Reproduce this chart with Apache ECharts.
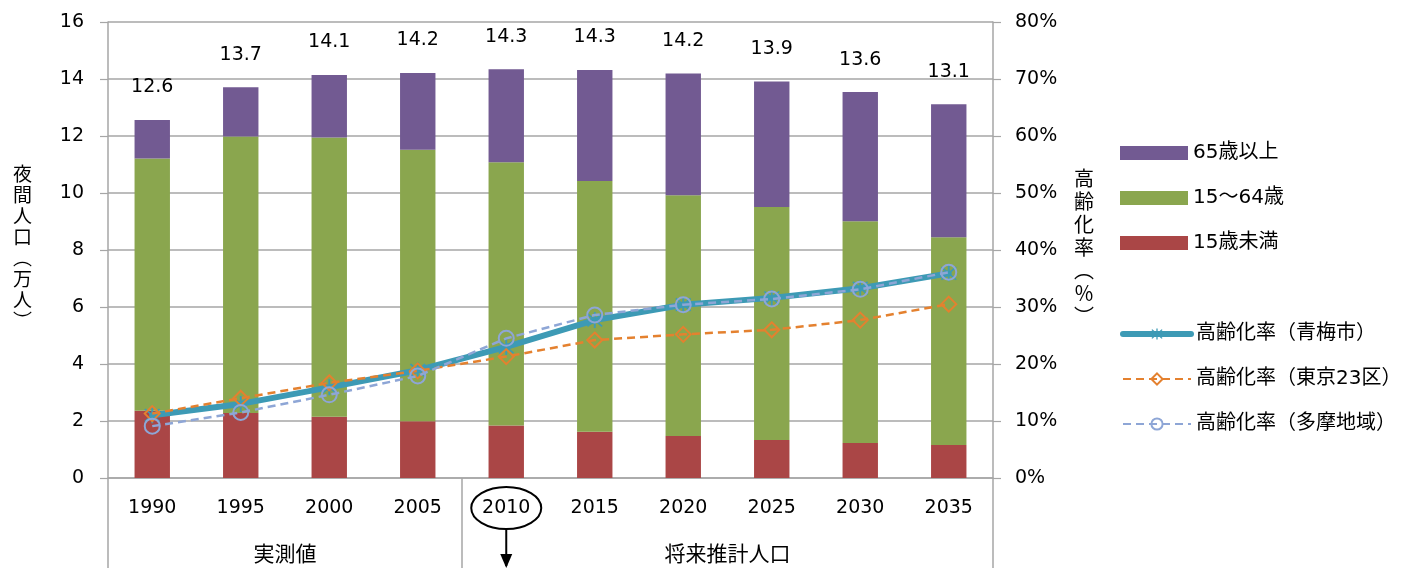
<!DOCTYPE html>
<html>
<head>
<meta charset="utf-8">
<script src="https://cdn.jsdelivr.net/npm/echarts@6/dist/echarts.min.js"></script>
<style>
html,body{margin:0;padding:0;background:#fff;}
#main{width:1422px;height:568px;}
</style>
</head>
<body>
<div id="main"></div>
<script>
// ---- data ----
const categories = ['1990','1995','2000','2005','2010','2015','2020','2025','2030','2035'];
const under15   = [2.36, 2.28, 2.15, 1.99, 1.84, 1.62, 1.47, 1.33, 1.23, 1.16];
const age15to64 = [8.85, 9.70, 9.80, 9.53, 9.24, 8.80, 8.45, 8.18, 7.78, 7.29];
const over65    = [1.35, 1.73, 2.19, 2.69, 3.26, 3.90, 4.27, 4.40, 4.53, 4.66];
const totalLabels = ['12.6','13.7','14.1','14.2','14.3','14.3','14.2','13.9','13.6','13.1'];
const agingOme    = [11.0, 13.0, 15.9, 18.9, 23.0, 27.7, 30.4, 31.6, 33.3, 35.9];
const agingTokyo  = [11.3, 14.0, 16.7, 18.8, 21.3, 24.2, 25.2, 26.0, 27.7, 30.5];
const agingTama   = [9.1, 11.5, 14.6, 17.9, 24.5, 28.6, 30.4, 31.4, 33.1, 36.1];
const groupLabels = ['実測値', '将来推計人口'];
const groupSplitIndex = 4; // first category of second group
const circledCategory = '2010';

const FONT = "'DejaVu Sans', 'Noto Sans CJK JP', sans-serif";
const GRID = '#A6A6A6';
const C_PURPLE = '#725A92', C_GREEN = '#8AA64E', C_RED = '#AA4646';
const C_TEAL = '#3D9AB5', C_ORANGE = '#E4812F', C_LBLUE = '#8EA6D6';

const asterisk = 'path://M9,0 L11,0 L11,20 L9,20 Z M1.4,2.8 L2.8,1.4 L18.6,17.2 L17.2,18.6 Z M17.2,1.4 L18.6,2.8 L2.8,18.6 L1.4,17.2 Z';

const chart = echarts.init(document.getElementById('main'), null, {renderer:'canvas'});
const option = {
  animation: false,
  textStyle: {fontFamily: FONT, color: '#000'},
  grid: {left: 108, right: 429, top: 22, bottom: 90, containLabel: false},
  legend: [
    {
      data: ['65歳以上', '15〜64歳', '15歳未満'],
      orient: 'vertical', left: 1115, top: 138,
      itemWidth: 68, itemHeight: 14, itemGap: 25, icon: 'rect',
      textStyle: {fontFamily: FONT, fontSize: 20, color: '#000', lineHeight: 20},
      selectedMode: false
    },
    {
      data: [
        {name: '高齢化率（青梅市）', lineStyle: {width: 6, cap: 'round'}},
        {name: '高齢化率（東京23区）'},
        {name: '高齢化率（多摩地域）'}
      ],
      orient: 'vertical', left: 1115, top: 319,
      itemWidth: 68, itemHeight: 14, itemGap: 25,
      textStyle: {fontFamily: FONT, fontSize: 20, color: '#000', lineHeight: 20},
      selectedMode: false
    }
  ],
  xAxis: {
    type: 'category', data: categories,
    axisLine: {lineStyle: {color: GRID, width: 1.5}},
    axisTick: {length: 47, lineStyle: {color: GRID, width: 1.2}},
    axisLabel: {fontSize: 19, color: '#000', margin: 21, fontFamily: FONT}
  },
  yAxis: [
    {
      type: 'value', min: 0, max: 16, interval: 2,
      name: '夜\n間\n人\n口\n︵\n万\n人\n︶', nameLocation: 'middle', nameRotate: 0, nameGap: 76,
      nameTextStyle: {fontSize: 19, lineHeight: 21, color: '#000', fontFamily: FONT},
      axisLine: {show: true, lineStyle: {color: GRID, width: 1.5}},
      axisTick: {show: true, length: 8, lineStyle: {color: GRID, width: 1.2}},
      axisLabel: {fontSize: 19, color: '#000', margin: 24, fontFamily: FONT},
      splitLine: {lineStyle: {color: GRID, width: 1.5}}
    },
    {
      type: 'value', min: 0, max: 80, interval: 10, position: 'right',
      name: '高\n齢\n化\n率\n︵\n％\n︶', nameLocation: 'middle', nameRotate: 0, nameGap: 81,
      nameTextStyle: {fontSize: 20, lineHeight: 23, color: '#000', fontFamily: FONT},
      axisLine: {show: true, lineStyle: {color: GRID, width: 1.5}},
      axisTick: {show: true, length: 8, lineStyle: {color: GRID, width: 1.2}},
      axisLabel: {fontSize: 19, color: '#000', margin: 22, formatter: '{value}%', fontFamily: FONT},
      splitLine: {show: false}
    }
  ],
  series: [
    {name: '15歳未満', type: 'bar', stack: 'pop', data: under15, barWidth: '40%',
      itemStyle: {color: C_RED}},
    {name: '15〜64歳', type: 'bar', stack: 'pop', data: age15to64, barWidth: '40%',
      itemStyle: {color: C_GREEN}},
    {name: '65歳以上', type: 'bar', stack: 'pop', data: over65, barWidth: '40%',
      itemStyle: {color: C_PURPLE},
      label: {show: true, position: 'top', distance: 23, fontSize: 19, color: '#000', fontFamily: FONT,
        formatter: p => totalLabels[p.dataIndex]}},
    {name: '高齢化率（青梅市）', type: 'line', yAxisIndex: 1, data: agingOme,
      symbol: asterisk, symbolSize: 16,
      lineStyle: {color: C_TEAL, width: 6, cap: 'round', join: 'round'},
      itemStyle: {color: C_TEAL}, z: 3},
    {name: '高齢化率（東京23区）', type: 'line', yAxisIndex: 1, data: agingTokyo,
      symbol: 'diamond', symbolSize: 15,
      lineStyle: {color: C_ORANGE, width: 2.5, type: [8, 5]},
      itemStyle: {color: 'rgba(255,255,255,0)', borderColor: C_ORANGE, borderWidth: 2}, z: 4},
    {name: '高齢化率（多摩地域）', type: 'line', yAxisIndex: 1, data: agingTama,
      symbol: 'circle', symbolSize: 15,
      lineStyle: {color: C_LBLUE, width: 2.5, type: [8, 5]},
      itemStyle: {color: 'rgba(255,255,255,0)', borderColor: C_LBLUE, borderWidth: 2}, z: 5}
  ]
};
chart.setOption(option);

// ---- annotations positioned from the axis scale ----
function px(cat) { return chart.convertToPixel({xAxisIndex: 0}, cat); }
const y0 = chart.convertToPixel({yAxisIndex: 0}, 0);
const step = px(categories[1]) - px(categories[0]);
const leftEdge = px(categories[0]) - step / 2;
const rightEdge = px(categories[categories.length - 1]) + step / 2;
const splitX = px(categories[groupSplitIndex]) - step / 2;
const g1x = (leftEdge + splitX) / 2;
const g2x = (splitX + rightEdge) / 2;
const cx = px(circledCategory);
const cy = y0 + 30;
const bottom = 568;
chart.setOption({
  graphic: [
    {type: 'line', shape: {x1: leftEdge, y1: y0, x2: leftEdge, y2: bottom}, style: {stroke: GRID, lineWidth: 1.5}},
    {type: 'line', shape: {x1: splitX, y1: y0, x2: splitX, y2: bottom}, style: {stroke: GRID, lineWidth: 1.5}},
    {type: 'line', shape: {x1: rightEdge, y1: y0, x2: rightEdge, y2: bottom}, style: {stroke: GRID, lineWidth: 1.5}},
    {type: 'text', x: g1x, y: 556, style: {text: groupLabels[0], font: "21px " + FONT, fill: '#000', textAlign: 'center', textVerticalAlign: 'middle'}},
    {type: 'text', x: g2x, y: 556, style: {text: groupLabels[1], font: "21px " + FONT, fill: '#000', textAlign: 'center', textVerticalAlign: 'middle'}},
    {type: 'ellipse', shape: {cx: cx, cy: cy, rx: 35, ry: 21}, style: {fill: 'none', stroke: '#000', lineWidth: 2}, z: 10},
    {type: 'line', shape: {x1: cx, y1: cy + 21, x2: cx, y2: bottom - 2}, style: {stroke: '#000', lineWidth: 2}, z: 10},
    {type: 'polygon', shape: {points: [[cx - 6, bottom - 14], [cx + 6, bottom - 14], [cx, bottom]]}, style: {fill: '#000'}, z: 10}
  ]
});
</script>
</body>
</html>
